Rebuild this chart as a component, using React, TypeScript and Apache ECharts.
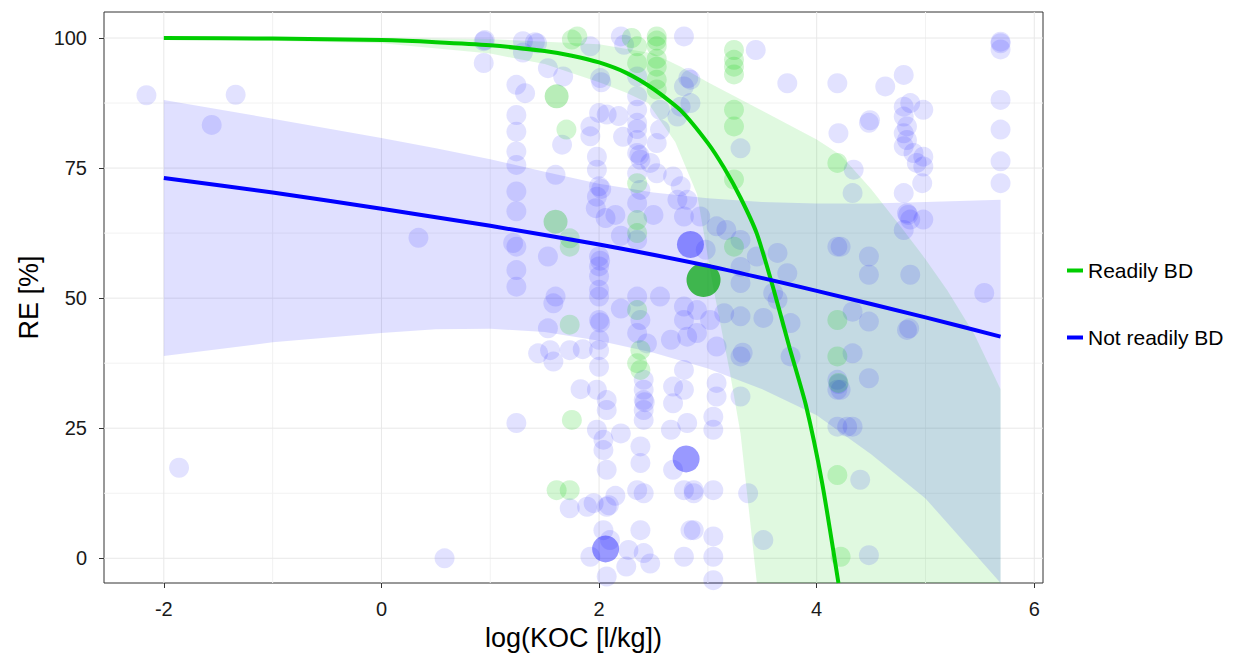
import React, { useEffect, useRef } from "react";
import * as echarts from "echarts";

// ---- axes ----
const X_MIN = -2.55;
const X_MAX = 6.08;
const Y_MIN = -4.75;
const Y_MAX = 105;
const xTicks = [-2, 0, 2, 4, 6];
const xMinor = [-1, 1, 3, 5];
const yTicks = [0, 25, 50, 75, 100];
const yMinor = [12.5, 37.5, 62.5, 87.5];

const seriesNames = ["Readily BD", "Not readily BD"];

// ---- fitted curves ----
const readilyFit: [number, number][] = [
  [-2, 100], [-1, 99.9], [0, 99.6], [0.5, 99.2], [1, 98.6], [1.5, 97.5], [1.75, 96.6],
  [2, 95.3], [2.25, 93.3], [2.5, 90.2], [2.75, 86.1], [3, 79.8], [3.15, 75], [3.3, 69.3],
  [3.45, 62.4], [3.6, 52], [3.75, 40.5], [3.9, 29.5], [4.05, 14.5], [4.2, -4.75],
];
const notReadilyFit: [number, number][] = [
  [-2, 73.1], [-1, 70.3], [0, 67.2], [1, 63.9], [2, 60.3], [3, 56.2], [4, 51.4], [5, 46.3], [5.69, 42.6],
];

// ---- confidence bands ----
const readilyUpper: [number, number][] = [
  [-2, 100.1], [0, 100], [1, 99.8], [2, 98.8], [2.5, 97], [2.75, 94.5], [3, 91.5], [3.5, 86],
  [4, 80.5], [4.22, 77.5], [4.5, 71], [4.8, 63], [5, 57.5], [5.2, 51.5], [5.45, 43], [5.69, 32.5],
];
const readilyLower: [number, number][] = [
  [-2, 99.9], [0, 99], [1, 97], [1.5, 95], [2, 91.5], [2.25, 89.5], [2.45, 87.5], [2.7, 80],
  [2.9, 70], [3.05, 52], [3.2, 36], [3.3, 24], [3.45, -4.75], [5.69, -4.75],
];
const notReadilyUpper: [number, number][] = [
  [-2, 88.1], [-1, 84.5], [0, 80.8], [0.5, 78.8], [1, 76.7], [1.5, 74.3], [2, 72.0], [2.5, 70.3],
  [3, 69.2], [3.5, 68.5], [4, 68.2], [4.5, 68.2], [5, 68.5], [5.69, 68.9],
];
const notReadilyLower: [number, number][] = [
  [-2, 38.9], [-1, 41.5], [0, 43.3], [0.5, 44.0], [1, 44.1], [1.5, 43.5], [2, 41.8], [2.5, 39.5],
  [3, 36.5], [3.5, 32.5], [4, 27.5], [4.5, 20], [5, 11.5], [5.69, -4.75],
];

// ---- observations ----
const notReadilyPoints: [number, number][] = [
  [-2.16, 89.0], [-1.56, 83.3], [-1.34, 89.1], [-1.86, 17.4], [0.34, 61.6], [0.58, 0],
  [0.94, 99.4], [0.95, 99.6], [0.94, 95.2],
  [1.3, 99.4], [1.41, 99.2], [1.43, 99.0], [1.3, 97.2], [1.24, 91], [1.32, 89.4], [1.24, 85.2],
  [1.24, 82], [1.24, 78.2], [1.24, 75.6], [1.24, 70.5], [1.24, 66.7], [1.21, 60.6], [1.24, 59.9],
  [1.24, 55.4], [1.24, 52.2], [1.24, 26],
  [1.6, 50.3], [1.53, 94.2], [1.66, 79.5], [1.6, 73.7], [1.53, 58], [1.67, 92.6], [1.58, 49],
  [1.53, 44.2], [1.44, 39.4], [1.58, 37.8], [1.55, 40], [1.73, 40], [1.73, 9.6],
  [1.92, 98.4], [2.01, 92.3], [2.02, 91.5], [2.0, 85.6], [1.92, 83], [2.07, 85.3], [1.92, 81.1],
  [1.98, 77.2], [1.98, 74.7], [2.0, 71.5], [2.02, 71.0], [1.98, 69.5], [1.97, 67.3], [2.06, 65.4],
  [2.0, 58], [2.01, 57.2], [2.0, 56.1], [2.0, 54.2], [2.0, 51.6], [2.0, 50.3], [2.0, 45.8],
  [2.01, 45.3], [2.0, 42], [2.0, 40], [2.0, 36.8], [1.98, 32.4], [2.07, 30.4], [2.07, 28.5],
  [1.98, 24.7], [2.04, 22.8], [2.04, 20.8], [2.07, 17], [1.95, 10.6], [2.07, 9.9], [2.09, 10.2],
  [1.89, 9.9], [2.04, 5.4], [2.1, 3.5], [1.92, 0.3], [2.07, -3.5], [2.27, 1.6], [1.85, 40.2],
  [1.83, 32.5],
  [2.2, 100.3], [2.23, 98.7], [2.18, 85], [2.22, 81], [2.15, 66], [2.2, 62], [2.2, 24],
  [2.2, 48], [2.15, 12], [2.25, -1.6],
  [2.35, 92.6], [2.35, 88.8], [2.35, 86.2], [2.35, 83.7], [2.35, 82.5], [2.35, 80.4], [2.35, 77.9],
  [2.37, 77.5], [2.38, 76.6], [2.35, 74], [2.38, 70.8], [2.35, 68.3], [2.35, 61.2], [2.35, 50.3],
  [2.38, 45.8], [2.35, 43.3], [2.44, 41.3], [2.41, 34.3], [2.41, 32.4], [2.41, 30.4], [2.42, 30.0],
  [2.41, 28.5], [2.41, 26.6], [2.38, 21.5], [2.38, 18.3], [2.35, 13.1], [2.41, 12.5], [2.38, 5.4],
  [2.41, 1], [2.47, -1],
  [2.56, 86.2], [2.56, 82.4], [2.53, 79.8], [2.47, 76], [2.53, 74], [2.56, 50.3], [2.5, 66],
  [2.78, 100.3], [2.82, 92.3], [2.78, 90.7], [2.75, 86.8], [2.72, 84.9], [2.68, 73.4], [2.75, 71.5],
  [2.72, 68.9], [2.81, 68.9], [2.78, 65.7], [2.78, 48.4], [2.78, 45.8], [2.66, 42], [2.81, 42.6],
  [2.78, 36.2], [2.68, 33], [2.78, 32.4], [2.68, 29.8], [2.66, 24.7], [2.81, 26], [2.68, 17],
  [2.78, 13.1], [2.87, 12.5], [2.84, 5.4], [2.78, 0.3],
  [2.84, 92], [2.84, 87.5], [2.93, 65.7], [3.08, 63.8], [3.17, 63.1], [3.3, 61.2], [2.98, 59.3],
  [3.45, 58], [3.64, 58.7], [3.73, 54.8], [3.3, 56], [3.3, 52.9], [3.6, 51], [3.3, 78.8],
  [3.44, 97.7], [3.73, 91.3], [4.19, 91.3], [4.2, 81.7], [4.19, 59.9],
  [2.9, 47.7], [3.02, 45.8], [3.15, 47.1], [3.3, 46.5], [3.51, 46.2], [3.64, 49.7], [3.76, 45.2],
  [2.9, 43.3], [3.08, 40.7], [3.3, 38.8], [3.32, 39.5], [3.76, 38.8], [3.08, 33.7], [3.08, 31.1],
  [3.3, 31.1], [3.05, 27.2], [3.05, 24.7], [2.87, 13.1], [3.05, 13.1], [3.37, 12.5], [2.87, 5.4],
  [3.05, 4.2], [3.51, 3.5], [3.05, 0.3], [3.05, -4.2],
  [4.19, 34.3], [4.2, 33.5], [4.19, 32.4], [4.19, 25.3], [4.28, 25.3],
  [4.63, 90.7], [4.8, 92.9], [4.48, 83.7], [4.49, 84.2], [4.8, 86.8], [4.86, 87.5], [4.98, 86.2],
  [4.8, 84.9], [4.83, 83], [4.8, 81.7], [4.83, 80.4], [4.8, 79.2], [4.89, 77.9], [4.98, 77.2],
  [4.92, 76], [4.98, 75.3], [4.97, 72.1], [4.34, 74.7], [4.33, 70.2], [4.8, 70.2], [4.83, 66.3],
  [4.84, 66.0], [4.86, 65.1], [4.98, 65.1], [4.8, 63.1], [4.22, 59.9], [4.48, 58], [4.48, 54.5],
  [4.86, 54.5], [5.54, 51], [5.69, 99], [5.69, 99.3], [5.69, 97.8], [5.69, 88.1], [5.69, 82.4],
  [5.69, 76.3], [5.69, 72.1], [4.33, 47.4], [4.48, 45.5], [4.83, 43.9], [4.85, 44.2], [4.33, 39.4],
  [4.48, 34.6], [4.22, 32.4], [4.33, 25.3], [4.4, 15.1], [4.48, 0.6],
];
const readilyPoints: [number, number][] = [
  [1.8, 100.3], [1.75, 99.7], [1.7, 82.4], [1.73, 59.9], [1.73, 44.9], [1.75, 26.6],
  [1.61, 13.1], [1.73, 13.1], [1.73, 61.5], [2.35, 98.4], [2.35, 95.2], [2.35, 72.1], [2.35, 65],
  [2.35, 62.5], [2.35, 47.7], [2.35, 37.5], [2.38, 36.2], [2.38, 40], [2.53, 100.3], [2.53, 99.5],
  [2.53, 98.4], [2.53, 96], [2.53, 94.5], [2.53, 92], [2.53, 90.1], [2.3, 100], [3.24, 97.7],
  [3.24, 95.8], [3.24, 94.5], [3.24, 93], [3.24, 86.2], [3.24, 83], [3.24, 72.8], [3.24, 59.9],
  [4.19, 76], [4.19, 45.8], [4.19, 38.8], [4.2, 33.7], [4.19, 16], [4.22, 0.3],
];
const readilyBigPoints: [number, number][] = [[1.6, 64.7], [1.61, 88.8]];
const readilyLargest: [number, number][] = [[2.96, 53.5]];
const notReadilyBigPoints: [number, number][] = [[2.84, 60.3], [2.8, 19.1], [2.06, 1.8]];

const GREEN = "#00cd00";
const BLUE = "#0000ff";
const FONT = "Liberation Sans, Arial, sans-serif";

function gridLinesItem(params: any, api: any) {
  const children: any[] = [];
  const add = (vals: number[], vertical: boolean, color: string, w: number) => {
    vals.forEach((v) => {
      const a = vertical ? api.coord([v, Y_MIN]) : api.coord([X_MIN, v]);
      const b = vertical ? api.coord([v, Y_MAX]) : api.coord([X_MAX, v]);
      children.push({
        type: "line",
        shape: { x1: a[0], y1: a[1], x2: b[0], y2: b[1] },
        style: { stroke: color, lineWidth: w },
      });
    });
  };
  add(xMinor, true, "#f2f2f2", 1);
  add(yMinor, false, "#f2f2f2", 1);
  add(xTicks, true, "#e8e8e8", 1);
  add(yTicks, false, "#e8e8e8", 1);
  return { type: "group", children };
}

function bandRenderer(upper: [number, number][], lower: [number, number][], fill: string) {
  return (params: any, api: any) => {
    const pts: number[][] = [];
    upper.forEach((p) => pts.push(api.coord(p)));
    for (let i = lower.length - 1; i >= 0; i--) pts.push(api.coord(lower[i]));
    return { type: "polygon", shape: { points: pts, smooth: 0 }, style: { fill } };
  };
}

export default function App() {
  const ref = useRef<HTMLDivElement>(null);
  useEffect(() => {
    if (!ref.current) return;
    const chart = echarts.init(ref.current, undefined, { renderer: "svg" });
    chart.setOption({
      animation: false,
      textStyle: { fontFamily: FONT },
      grid: {
        left: 104,
        right: 193,
        top: 12,
        bottom: 74,
        show: true,
        borderColor: "#333",
        borderWidth: 1,
        backgroundColor: "transparent",
      },
      legend: {
        data: seriesNames,
        orient: "vertical",
        left: 1062,
        top: 255,
        itemGap: 46,
        icon: "rect",
        itemWidth: 16,
        itemHeight: 4,
        textStyle: { fontSize: 21, color: "#000", fontFamily: FONT },
      },
      xAxis: {
        type: "value",
        min: X_MIN,
        max: X_MAX,
        axisLine: { show: false, onZero: false },
        axisTick: { show: true, length: 5, lineStyle: { color: "#333" }, customValues: xTicks },
        axisLabel: { customValues: xTicks, fontSize: 20, color: "#1a1a1a", margin: 16, fontFamily: FONT },
        splitLine: { show: false },
        name: "log(KOC [l/kg])",
        nameLocation: "middle",
        nameGap: 41,
        nameTextStyle: { fontSize: 27, color: "#000", fontFamily: FONT },
      },
      yAxis: {
        type: "value",
        min: Y_MIN,
        max: Y_MAX,
        axisLine: { show: false, onZero: false },
        axisTick: { show: true, length: 5, lineStyle: { color: "#333" }, customValues: yTicks },
        axisLabel: { customValues: yTicks, fontSize: 20, color: "#1a1a1a", margin: 17, fontFamily: FONT },
        splitLine: { show: false },
        name: "RE [%]",
        nameLocation: "middle",
        nameGap: 62,
        nameTextStyle: { fontSize: 27, color: "#000", fontFamily: FONT },
      },
      series: [
        {
          type: "custom",
          name: "grid",
          silent: true,
          z: 0,
          data: [[0, 0]],
          renderItem: gridLinesItem,
        },
        {
          type: "custom",
          name: "bandReadily",
          silent: true,
          z: 1,
          data: [[0, 0]],
          renderItem: bandRenderer(readilyUpper, readilyLower, "rgba(0,205,0,0.12)"),
        },
        {
          type: "custom",
          name: "bandNotReadily",
          silent: true,
          z: 1,
          data: [[0, 0]],
          renderItem: bandRenderer(notReadilyUpper, notReadilyLower, "rgba(0,0,255,0.12)"),
        },
        {
          type: "scatter",
          name: "ptsNot",
          z: 2,
          symbolSize: 20,
          silent: true,
          itemStyle: { color: "rgba(0,0,255,0.14)" },
          data: notReadilyPoints,
        },
        {
          type: "scatter",
          name: "ptsReadily",
          z: 2,
          symbolSize: 20,
          silent: true,
          itemStyle: { color: "rgba(0,205,0,0.22)" },
          data: readilyPoints,
        },
        {
          type: "scatter",
          name: "ptsReadilyBig",
          z: 2,
          symbolSize: 24,
          silent: true,
          itemStyle: { color: "rgba(0,190,0,0.35)" },
          data: readilyBigPoints,
        },
        {
          type: "scatter",
          name: "ptsNotBig",
          z: 2,
          symbolSize: 27,
          silent: true,
          itemStyle: { color: "rgba(0,0,255,0.5)" },
          data: notReadilyBigPoints,
        },
        {
          type: "scatter",
          name: "ptsReadilyLargest",
          z: 2,
          symbolSize: 34,
          silent: true,
          itemStyle: { color: "rgba(0,165,10,0.9)" },
          data: readilyLargest,
        },
        {
          type: "line",
          name: seriesNames[0],
          z: 3,
          showSymbol: false,
          smooth: 0.2,
          silent: true,
          itemStyle: { color: GREEN },
          lineStyle: { color: GREEN, width: 4 },
          data: readilyFit,
        },
        {
          type: "line",
          name: seriesNames[1],
          z: 3,
          showSymbol: false,
          smooth: 0.2,
          silent: true,
          itemStyle: { color: BLUE },
          lineStyle: { color: BLUE, width: 4 },
          data: notReadilyFit,
        },
      ],
    });
    return () => chart.dispose();
  }, []);
  return (
    <div
      ref={ref}
      style={{ position: "fixed", left: 0, top: 0, width: 1236, height: 657, background: "#fff" }}
    />
  );
}
